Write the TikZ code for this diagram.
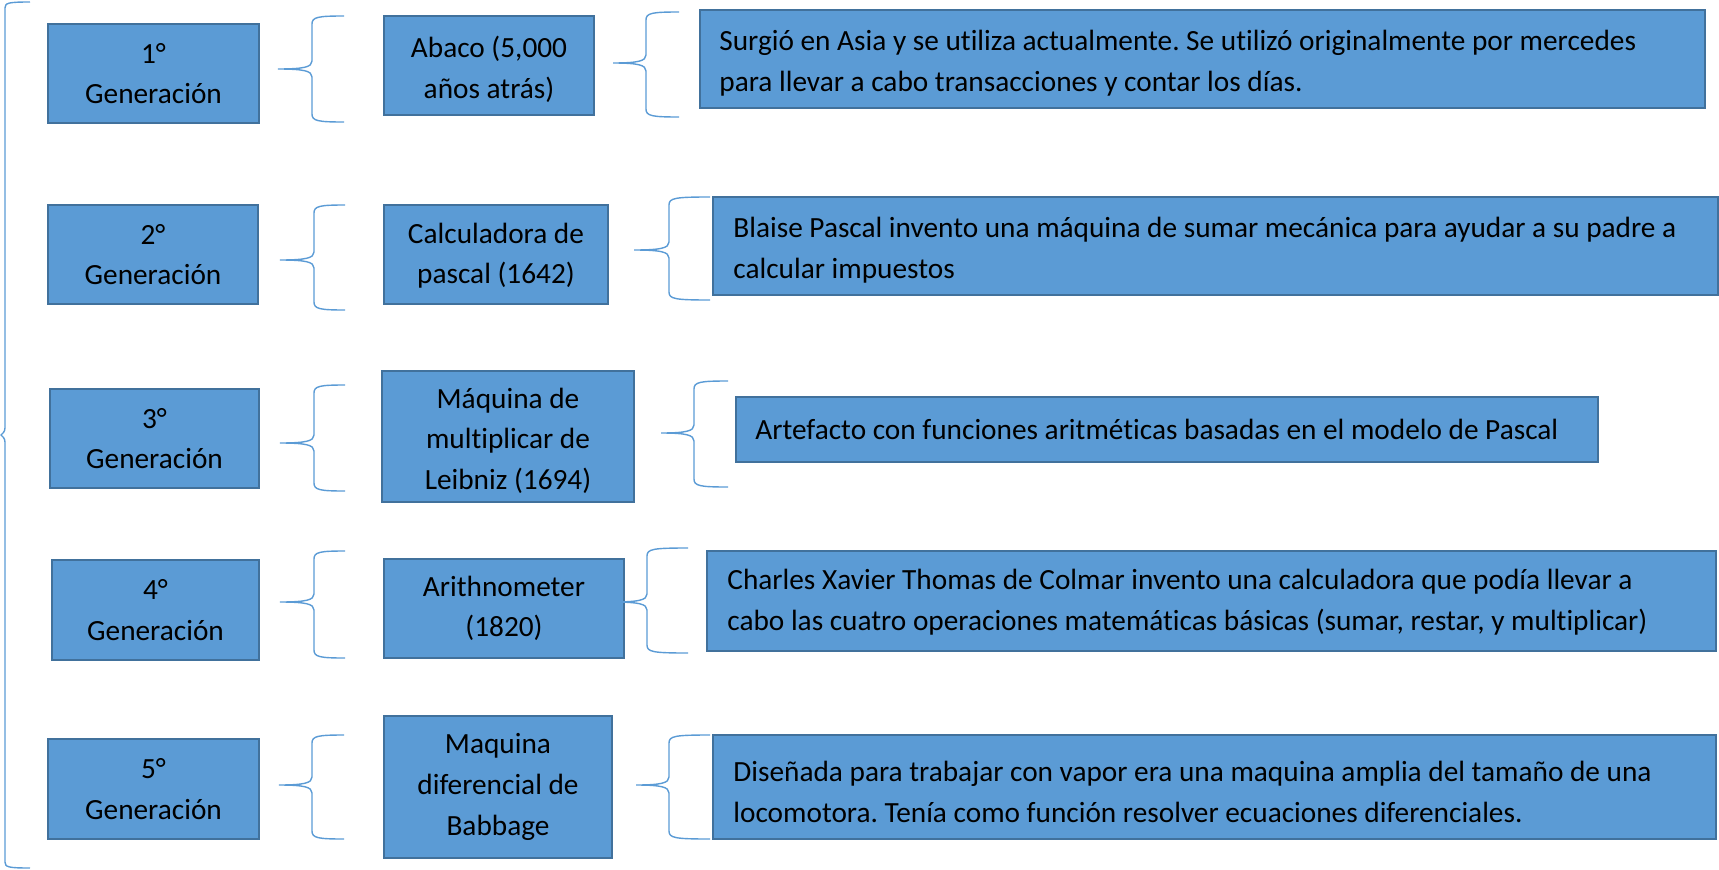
\documentclass[tikz,border=0pt]{standalone}
\usepackage{fontspec}
\setmainfont{Carlito}[Ligatures=NoCommon]
\frenchspacing
\definecolor{boxfill}{HTML}{5B9BD5}
\definecolor{boxline}{HTML}{41719C}
\definecolor{bracecol}{HTML}{5B9BD5}
\tikzset{
  gbox/.style={draw=boxline, fill=boxfill, line width=1.6pt, inner sep=0pt},
  ctext/.style={inner sep=0pt, align=center, font=\fontsize{29.3}{40.6}\selectfont},
  ltext/.style={inner sep=0pt, anchor=west, align=left, font=\fontsize{29.3}{40.6}\selectfont},
  brace/.style={draw=bracecol, line width=1.4pt}
}
\newcommand{\cbr}[6]{%
\draw[brace] (#4,#5) .. controls (#3+6,#5) and (#3,#5+1) .. (#3,#5+8) -- (#3,#2-8)
 .. controls (#3,#2-2) and (#3-8,#2) .. (#1,#2)
 .. controls (#3-8,#2) and (#3,#2+2) .. (#3,#2+8) -- (#3,#6-8)
 .. controls (#3,#6-1) and (#3+6,#6) .. (#4,#6);}
\begin{document}
\begin{tikzpicture}[x=1pt,y=-1pt]
\useasboundingbox (0,0) rectangle (1719,870);
% big brace
\draw[brace] (30,2) .. controls (8,2) and (5,3) .. (5,8) -- (5,428)
  .. controls (5,432) and (2,434) .. (1,435)
  .. controls (2,436) and (5,438) .. (5,442) -- (5,862)
  .. controls (5,867) and (8,868) .. (30,868);
% column 1
\node[gbox, minimum width=211pt, minimum height=99pt] (g1) at (153.5,73.5) {};
\node[gbox, minimum width=210pt, minimum height=99pt] (g2) at (153,254.5) {};
\node[gbox, minimum width=209pt, minimum height=99pt] (g3) at (154.5,438.5) {};
\node[gbox, minimum width=207pt, minimum height=100pt] (g4) at (155.5,610) {};
\node[gbox, minimum width=211pt, minimum height=100pt] (g5) at (153.5,789) {};
\node[ctext] (g1t) at (g1.center) {1°\\Generación};
\node[ctext] (g2t) at (g2.center) {2°\\Generación};
\node[ctext] (g3t) at (g3.center) {3°\\Generación};
\node[ctext] (g4t) at (g4.center) {4°\\Generación};
\node[ctext] (g5t) at (g5.center) {5°\\Generación};
% column 2
\node[gbox, minimum width=210pt, minimum height=99pt] (m1) at (489,65.5) {};
\node[gbox, minimum width=224pt, minimum height=99pt] (m2) at (496,254.5) {};
\node[gbox, minimum width=252pt, minimum height=131pt] (m3) at (508,436.5) {};
\node[gbox, minimum width=240pt, minimum height=99pt] (m4) at (504,608.5) {};
\node[gbox, minimum width=228pt, minimum height=142pt] (m5) at (498,787) {};
\node[ctext] (m1t) at ([yshift=-4pt]m1.center) {Abaco (5,000\\años atrás)};
\node[ctext] (m2t) at ([yshift=-1pt]m2.center) {Calculadora de\\pascal (1642)};
\node[ctext] (m3t) at ([yshift=-4pt]m3.center) {Máquina de\\multiplicar de\\Leibniz (1694)};
\node[ctext] (m4t) at (m4.center) {Arithnometer\\(1820)};
\node[ctext] (m5t) at (m5.center) {Maquina\\diferencial de\\Babbage};
% column 3
\node[gbox, minimum width=1005pt, minimum height=98pt] (d1) at (1202.5,59) {};
\node[gbox, minimum width=1005pt, minimum height=98pt] (d2) at (1215.5,246) {};
\node[gbox, minimum width=862pt, minimum height=65pt] (d3) at (1167,429.5) {};
\node[gbox, minimum width=1009pt, minimum height=100pt] (d4) at (1211.5,601) {};
\node[gbox, minimum width=1003pt, minimum height=104pt] (d5) at (1214.5,787) {};
\node[ltext] (d1t) at ([xshift=20pt,yshift=-4pt]d1.west) {Surgió en Asia y se utiliza actualmente. Se utilizó originalmente por mercedes\\para llevar a cabo transacciones y contar los días.};
\node[ltext] (d2t) at ([xshift=21pt,yshift=-4pt]d2.west) {Blaise Pascal invento una máquina de sumar mecánica para ayudar a su padre a\\calcular impuestos};
\node[ltext] (d3t) at ([xshift=20pt]d3.west) {Artefacto con funciones aritméticas basadas en el modelo de Pascal};
\node[ltext] (d4t) at ([xshift=21pt,yshift=-1pt]d4.west) {Charles Xavier Thomas de Colmar invento una calculadora que podía llevar a\\cabo las cuatro operaciones matemáticas básicas (sumar, restar, y multiplicar)};
\node[ltext] (d5t) at ([xshift=21pt,yshift=-5pt]d5.west) {Diseñada para trabajar con vapor era una maquina amplia del tamaño de una\\locomotora. Tenía como función resolver ecuaciones diferenciales.};
% braces
\cbr{278}{69}{312}{344}{16}{122}
\cbr{613}{63}{646}{679}{12}{117}
\cbr{280}{260}{314}{345}{205}{310}
\cbr{634}{250}{669}{710}{197}{300}
\cbr{280}{443}{314}{345}{385}{491}
\cbr{661}{433}{694}{728}{381}{487}
\cbr{280}{602}{314}{345}{551}{658}
\cbr{612}{602}{647}{688}{548}{653}
\cbr{279}{785}{312}{344}{735}{839}
\cbr{636}{785}{669}{710}{735}{839}
\end{tikzpicture}
\end{document}
